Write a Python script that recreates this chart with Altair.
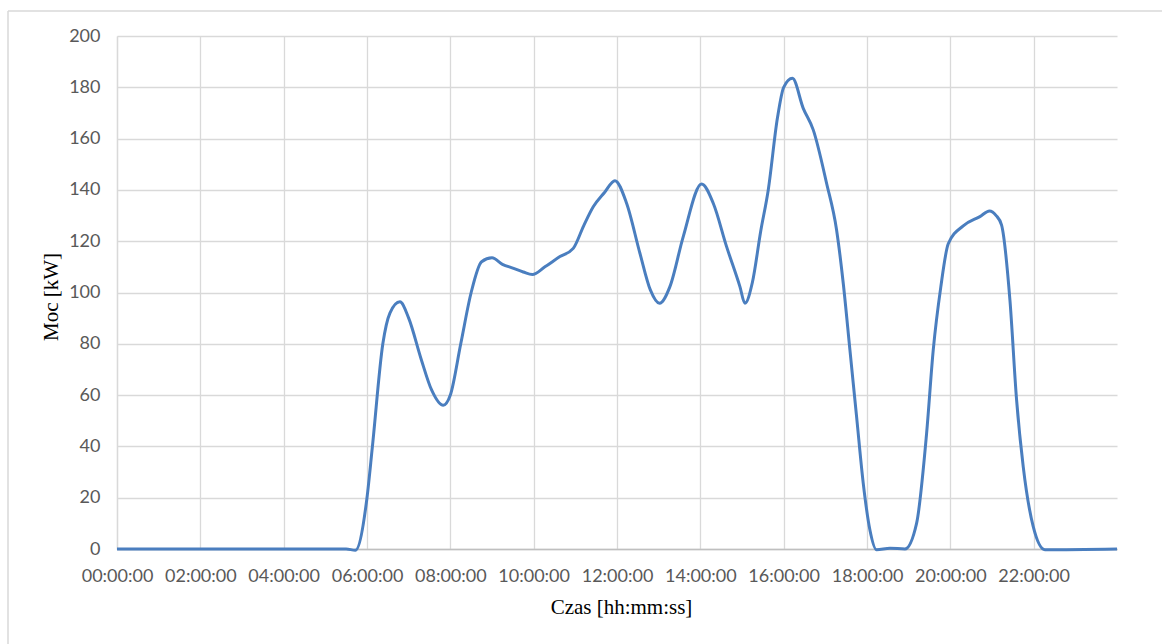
import altair as alt
import pandas as pd

# Time in hours, power in kW
hours = [0, 5.5, 5.72, 6.0, 6.13, 6.38, 6.55, 6.79, 7.0, 7.3, 7.55, 7.83, 8.0, 8.25, 8.5,
         8.75, 9.0, 9.25, 9.5, 9.75, 9.97, 10.27, 10.63, 10.95, 11.2, 11.43, 11.7, 11.95,
         12.23, 12.55, 12.8, 13.02, 13.27, 13.59, 14.03, 14.31, 14.63, 14.95, 15.07, 15.25,
         15.45, 15.63, 15.85, 16.0, 16.21, 16.47, 16.71, 17.03, 17.27, 17.43, 17.59, 17.75,
         17.91, 18.07, 18.23, 18.55, 18.91, 19.19, 19.43, 19.59, 19.77, 19.95, 20.31, 20.71,
         20.94, 21.1, 21.23, 21.43, 21.59, 21.75, 21.99, 22.27, 24]
power = [0, 0, -0.5, 20, 40, 80, 92, 96.4, 90, 74, 62, 56, 60, 80, 100,
         112, 113.5, 111, 109.5, 108, 107, 110, 114, 117.2, 126, 133.4, 139, 143.6,
         134.8, 115.3, 101, 95.8, 102.3, 121.8, 142.3, 134.8, 117.9, 102.3, 95.8, 104,
         124, 140, 168, 180, 183.5, 171.8, 163.4, 142.6, 124.4, 103.6, 77.6, 51.6,
         25.6, 7.4, -0.3, 0.3, 0, 10, 45, 77.6, 102, 119, 126, 129.6,
         131.8, 130, 126.3, 97.1, 58.1, 32, 8.7, -0.3, 0]

x_ticks = list(range(0, 24, 2))
y_ticks = list(range(0, 201, 20))

df = pd.DataFrame({"h": hours, "p": power})

W, H = 1000, 513
PL, PT = 117, 36
TOTAL_W, TOTAL_H = 1162, 644

line = alt.Chart(df).mark_line(
    color="#4A7EBF", strokeWidth=3, interpolate="monotone", clip=False
).encode(
    x=alt.X("h:Q",
            scale=alt.Scale(domain=[0, 24], nice=False, zero=False),
            axis=alt.Axis(values=x_ticks,
                          labelExpr="(datum.value < 10 ? '0' : '') + datum.value + ':00:00'",
                          labelOverlap=False, labelFlush=False,
                          title="Czas [hh:mm:ss]",
                          titleY=58, titleX=W / 2 + 4, titleBaseline="middle",
                          domainColor="#BFBFBF", domainWidth=1.5,
                          labelPadding=18, ticks=False,
                          gridColor="#D9D9D9", gridWidth=1.3)),
    y=alt.Y("p:Q",
            scale=alt.Scale(domain=[0, 200], nice=False),
            axis=alt.Axis(values=y_ticks, title="Moc [kW]",
                          titleX=-66, titleY=H / 2 + 4, titleBaseline="middle",
                          domainColor="#D9D9D9", domainWidth=1.3,
                          labelPadding=17, ticks=False, labelOverlap=False,
                          gridColor="#D9D9D9", gridWidth=1.3)),
)

frame_df = pd.DataFrame({"k": [0]})
top_border = alt.Chart(frame_df).mark_rule(color="#D9D9D9", strokeWidth=1.5).encode(
    x=alt.value(8 - PL), x2=alt.value(TOTAL_W - PL), y=alt.value(11 - PT)
)
left_border = alt.Chart(frame_df).mark_rule(color="#D9D9D9", strokeWidth=1.5).encode(
    x=alt.value(8 - PL), y=alt.value(11 - PT), y2=alt.value(TOTAL_H - PT)
)

chart = alt.layer(top_border, left_border, line).properties(
    width=W, height=H,
    autosize=alt.AutoSizeParams(type="none"),
    padding={"left": PL, "top": PT, "right": TOTAL_W - PL - W, "bottom": TOTAL_H - PT - H},
    background="white",
).configure_view(stroke=None).configure_axis(
    labelFont="Lato", labelFontSize=18, labelColor="#595959",
    titleFont="Liberation Serif", titleFontSize=21, titleColor="#000000", titleFontWeight="normal",
)

chart.save("out.html", embed_options={"renderer": "svg", "actions": False})
